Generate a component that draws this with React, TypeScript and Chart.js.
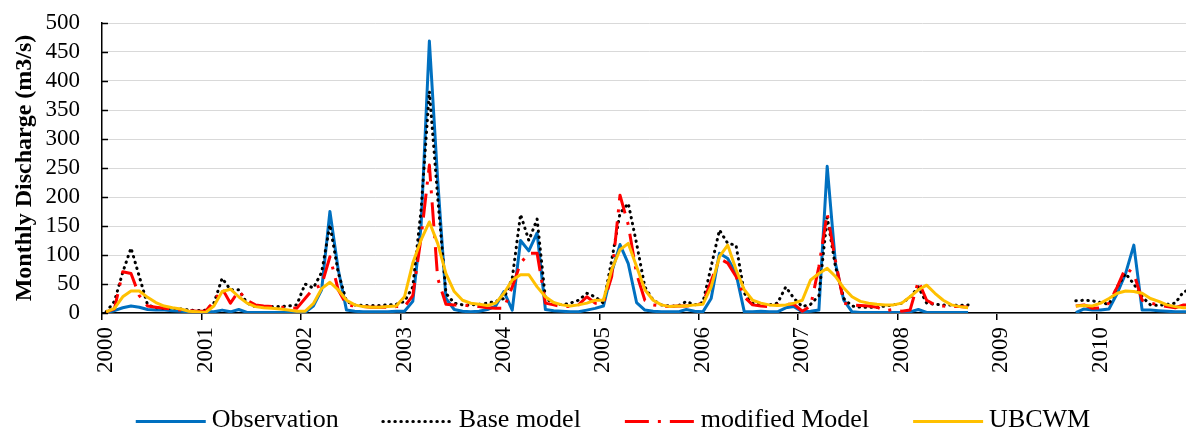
import React, { useEffect, useRef } from 'react';
import { Chart, registerables } from 'chart.js';

Chart.register(...registerables);

// Tick labels (years) and monthly categories
const years = ['2000', '2001', '2002', '2003', '2004', '2005', '2006', '2007', '2008', '2009', '2010'];
const monthCodes = ['01', '02', '03', '04', '05', '06', '07', '08', '09', '10', '11', '12'];
const months = years.flatMap((y) => monthCodes.map((m) => `${y}-${m}`));

const N = null;

// Monthly discharge (m3/s), Jan 2000 - Dec 2010
const observation = [
  1, 4, 9, 12, 10, 6, 5, 5, 4, 3, 2, 2,
  2, 2, 5, 2, 6, 1, 1, 1, 1, 1, 1, 1,
  1, 12, 40, 175, 75, 5, 3, 2, 2, 2, 2, 3,
  3, 20, 150, 469, 230, 25, 6, 3, 2, 3, 6, 12,
  37, 5, 125, 107, 138, 6, 4, 3, 2, 2, 5, 8,
  12, 70, 118, 85, 18, 5, 3, 2, 2, 2, 6, 3,
  2, 25, 103, 94, 68, 2, 2, 3, 2, 2, 9, 11,
  2, 3, 5, 253, 85, 22, 2, 1, 1, 1, 1, 1,
  1, 2, 6, 1, 1, 1, 1, 1, 1, N, N, N,
  N, N, N, N, N, N, N, N, N, 0.5, 7, 5,
  5, 7, 34, 68, 117, 5, 5, 4, 3, 2, 2, 2,
];

const baseModel = [
  2, 20, 70, 112, 63, 14, 9, 8, 8, 7, 5, 4,
  5, 17, 60, 40, 40, 17, 11, 11, 11, 11, 12, 14,
  50, 43, 70, 152, 70, 20, 14, 13, 13, 13, 14, 15,
  20, 45, 178, 382, 200, 34, 17, 14, 14, 15, 17, 20,
  25, 60, 170, 125, 162, 25, 17, 14, 17, 22, 34, 28,
  17, 91, 172, 189, 120, 45, 22, 14, 12, 12, 20, 14,
  18, 80, 143, 120, 117, 34, 17, 14, 14, 17, 45, 25,
  11, 15, 30, 165, 80, 25, 12, 10, 10, 10, 12, 14,
  17, 27, 45, 17, 15, 14, 14, 13, 14, N, N, N,
  N, N, N, N, N, N, N, N, N, 21, 22, 21,
  18, 15, 45, 68, 50, 28, 14, 13, 15, 17, 37, 40,
];

const modifiedModel = [
  2, 7, 71, 68, 30, 12, 10, 8, 7, 5, 4, 3,
  3, 20, 42, 17, 38, 22, 14, 12, 11, 10, 9, 8,
  25, 42, 48, 97, 40, 14, 12, 11, 10, 10, 10, 11,
  11, 30, 130, 255, 60, 15, 14, 14, 12, 11, 9, 8,
  8, 45, 86, 103, 103, 17, 14, 11, 11, 14, 28, 17,
  17, 63, 203, 152, 68, 22, 14, 12, 11, 12, 12, 13,
  17, 55, 94, 86, 63, 28, 14, 12, 11, 14, 15, 15,
  3, 12, 80, 172, 90, 17, 14, 13, 12, 10, 4, 6,
  3, 5, 55, 22, 14, 12, 11, 11, 10, N, N, N,
  N, N, N, N, N, N, N, N, N, 12, 14, 8,
  9, 17, 45, 78, 68, 22, 17, 14, 11, 9, 14, 14,
];

const ubcwm = [
  2, 8, 28, 38, 38, 27, 18, 12, 9, 7, 3, 2,
  1, 12, 37, 41, 28, 17, 11, 9, 8, 7, 5, 3,
  3, 16, 42, 53, 40, 22, 14, 11, 10, 10, 11, 12,
  28, 86, 126, 157, 120, 68, 37, 22, 17, 15, 13, 17,
  34, 57, 66, 66, 45, 28, 18, 14, 12, 14, 17, 22,
  22, 75, 109, 120, 80, 40, 22, 14, 11, 12, 12, 14,
  15, 45, 97, 117, 75, 40, 22, 17, 14, 13, 14, 17,
  22, 57, 68, 77, 63, 43, 28, 20, 17, 15, 14, 14,
  17, 28, 40, 48, 34, 22, 14, 11, 9, N, N, N,
  N, N, N, N, N, N, N, N, N, 12, 13, 12,
  17, 25, 34, 38, 37, 34, 25, 20, 14, 11, 9, 9,
];

const FONT = '"Liberation Serif", "Times New Roman", serif';

const innerTicksPlugin = {
  id: 'innerTicks',
  beforeDatasetsDraw(chart: any) {
    const { ctx, chartArea } = chart;
    const y = chart.scales.y;
    ctx.save();
    ctx.strokeStyle = '#000';
    ctx.lineWidth = 1.5;
    y.ticks.forEach((t: any) => {
      const py = Math.round(y.getPixelForValue(t.value)) + 0.5;
      ctx.beginPath();
      ctx.moveTo(chartArea.left, py);
      ctx.lineTo(chartArea.left + 6, py);
      ctx.stroke();
    });
    ctx.restore();
  },
};

const bottomLegendPlugin = {
  id: 'bottomLegend',
  afterDraw(chart: any) {
    const { ctx } = chart;
    const ds = chart.data.datasets;
    ctx.save();
    ctx.font = `26px ${FONT}`;
    const lineLen = 70;
    const gapText = 6;
    const gapItem = 44;
    const widths = ds.map((d: any) => ctx.measureText(d.label).width);
    const total =
      widths.reduce((a: number, w: number) => a + lineLen + gapText + w, 0) + gapItem * (ds.length - 1);
    let x = 613 - total / 2;
    const yLine = 421.5;
    const yText = 427;
    ds.forEach((d: any, k: number) => {
      ctx.beginPath();
      ctx.setLineDash(d.borderDash || []);
      ctx.lineCap = d.borderCapStyle || 'butt';
      ctx.lineWidth = d.borderWidth;
      ctx.strokeStyle = d.borderColor;
      ctx.moveTo(x, yLine);
      ctx.lineTo(x + lineLen, yLine);
      ctx.stroke();
      ctx.setLineDash([]);
      ctx.fillStyle = '#000';
      ctx.textAlign = 'left';
      ctx.textBaseline = 'alphabetic';
      ctx.fillText(d.label, x + lineLen + gapText, yText);
      x += lineLen + gapText + widths[k] + gapItem;
    });
    ctx.restore();
  },
};

export default function App() {
  const canvasRef = useRef<HTMLCanvasElement | null>(null);

  useEffect(() => {
    document.body.style.margin = '0';
    const canvas = canvasRef.current;
    if (!canvas) return;
    const chart = new Chart(canvas, {
      type: 'line',
      data: {
        labels: months,
        datasets: [
          {
            label: 'Observation',
            data: observation,
            borderColor: '#0070C0',
            backgroundColor: '#0070C0',
            borderWidth: 3,
            borderCapStyle: 'butt',
            borderJoinStyle: 'round',
            pointRadius: 0,
            tension: 0,
            order: 4,
          },
          {
            label: 'Base model',
            data: baseModel,
            borderColor: '#000000',
            backgroundColor: '#000000',
            borderWidth: 3,
            borderDash: [0.5, 5.5],
            borderCapStyle: 'round',
            borderJoinStyle: 'round',
            pointRadius: 0,
            tension: 0,
            order: 3,
          },
          {
            label: 'modified Model',
            data: modifiedModel,
            borderColor: '#FF0000',
            backgroundColor: '#FF0000',
            borderWidth: 3,
            borderDash: [24, 9, 3, 9],
            borderCapStyle: 'butt',
            borderJoinStyle: 'round',
            pointRadius: 0,
            tension: 0,
            order: 2,
          },
          {
            label: 'UBCWM',
            data: ubcwm,
            borderColor: '#FFC000',
            backgroundColor: '#FFC000',
            borderWidth: 3,
            borderCapStyle: 'butt',
            borderJoinStyle: 'round',
            pointRadius: 0,
            tension: 0,
            order: 1,
          },
        ],
      },
      options: {
        responsive: false,
        maintainAspectRatio: false,
        devicePixelRatio: 1,
        animation: false,
        spanGaps: false,
        layout: { padding: { top: 23, left: 0, right: 0, bottom: 0 } },
        plugins: {
          legend: { display: false },
          tooltip: { enabled: false },
        },
        scales: {
          x: {
            type: 'category',
            offset: true,
            grid: {
              offset: true,
              drawOnChartArea: false,
              drawTicks: true,
              tickLength: 7,
              lineWidth: 1.5,
              color: (ctx: any) => (ctx.index % 12 === 0 ? '#000' : 'rgba(0,0,0,0)'),
            },
            border: { display: true, color: '#000', width: 1.5 },
            ticks: {
              autoSkip: false,
              maxRotation: 90,
              minRotation: 90,
              padding: 7,
              color: '#000',
              font: { family: FONT, size: 23 },
              callback: (_v: any, index: number) => (index % 12 === 0 ? years[index / 12] : ''),
            },
            afterFit: (scale: any) => {
              scale.height = 117;
              scale.paddingLeft = 0;
              scale.paddingRight = 0;
            },
          },
          y: {
            min: 0,
            max: 500,
            ticks: {
              stepSize: 50,
              autoSkip: false,
              padding: 22,
              color: '#000',
              font: { family: FONT, size: 23 },
            },
            grid: {
              color: '#D9D9D9',
              lineWidth: 1,
              drawTicks: false,
            },
            border: { display: true, color: '#000', width: 1.5 },
            title: {
              display: true,
              text: 'Monthly Discharge (m3/s)',
              color: '#000',
              font: { family: FONT, size: 24, weight: 'bold' },
              padding: { top: 10, bottom: 0 },
            },
            afterFit: (scale: any) => {
              scale.width = 102;
              scale.paddingTop = 0;
              scale.paddingBottom = 0;
            },
          },
        },
      },
      plugins: [innerTicksPlugin, bottomLegendPlugin],
    } as any);
    return () => chart.destroy();
  }, []);

  return (
    <div style={{ width: 1186, height: 430, overflow: 'hidden', position: 'relative' }}>
      <canvas
        ref={canvasRef}
        width={1196}
        height={430}
        style={{ display: 'block', width: 1196, height: 430 }}
      />
    </div>
  );
}
